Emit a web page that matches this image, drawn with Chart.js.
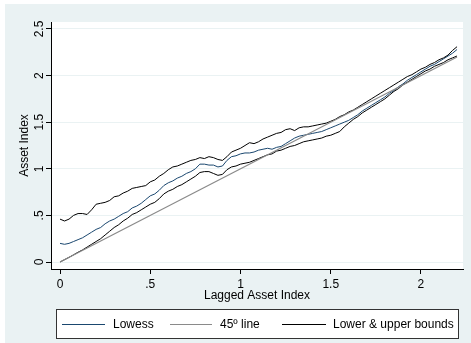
<!DOCTYPE html>
<html>
<head>
<meta charset="utf-8">
<script src="https://cdn.jsdelivr.net/npm/chart.js@4.4.1/dist/chart.umd.min.js"></script>
<style>
  html, body { margin: 0; padding: 0; background: #ffffff; }
  #wrap { width: 471px; height: 343px; position: relative; }
</style>
</head>
<body>
<div id="wrap"><canvas id="chart" width="471" height="343"></canvas></div>
<script>
/* Lowess of asset index on lagged asset index, with bounds */

const lagged = [
  0, 0.025, 0.05, 0.075, 0.1, 0.125, 0.15, 0.175, 0.2, 0.225,
  0.25, 0.275, 0.3, 0.325, 0.35, 0.375, 0.4, 0.425, 0.45, 0.475,
  0.5, 0.525, 0.55, 0.575, 0.6, 0.625, 0.65, 0.675, 0.7, 0.725,
  0.75, 0.775, 0.8, 0.825, 0.85, 0.875, 0.9, 0.925, 0.95, 0.975,
  1, 1.025, 1.05, 1.075, 1.1, 1.125, 1.15, 1.175, 1.2, 1.225,
  1.25, 1.275, 1.3, 1.325, 1.35, 1.375, 1.4, 1.425, 1.45, 1.475,
  1.5, 1.525, 1.55, 1.575, 1.6, 1.625, 1.65, 1.675, 1.7, 1.725,
  1.75, 1.775, 1.8, 1.825, 1.85, 1.875, 1.9, 1.925, 1.95, 1.975,
  2, 2.025, 2.05, 2.075, 2.1, 2.125, 2.15, 2.175, 2.2
];

const lowess = [
  0.20, 0.19, 0.20, 0.22, 0.24, 0.26, 0.29, 0.32, 0.35, 0.37,
  0.41, 0.44, 0.46, 0.49, 0.52, 0.54, 0.58, 0.60, 0.63, 0.67,
  0.71, 0.73, 0.77, 0.82, 0.85, 0.87, 0.90, 0.92, 0.95, 0.97,
  1.00, 1.05, 1.05, 1.04, 1.04, 1.02, 1.03, 1.09, 1.13, 1.14,
  1.16, 1.17, 1.17, 1.18, 1.20, 1.21, 1.22, 1.21, 1.23, 1.24,
  1.27, 1.30, 1.33, 1.35, 1.36, 1.37, 1.38, 1.39, 1.40, 1.42,
  1.44, 1.46, 1.48, 1.50, 1.52, 1.55, 1.58, 1.62, 1.65, 1.68,
  1.71, 1.74, 1.77, 1.81, 1.84, 1.88, 1.91, 1.95, 1.98, 2.01,
  2.04, 2.07, 2.10, 2.12, 2.15, 2.18, 2.21, 2.24, 2.28
];

const upper = [
  0.46, 0.44, 0.46, 0.50, 0.52, 0.52, 0.51, 0.56, 0.62, 0.63,
  0.64, 0.66, 0.70, 0.71, 0.74, 0.76, 0.79, 0.80, 0.81, 0.82,
  0.86, 0.88, 0.92, 0.95, 0.99, 1.02, 1.03, 1.05, 1.07, 1.09,
  1.10, 1.12, 1.11, 1.13, 1.12, 1.10, 1.09, 1.13, 1.18, 1.20,
  1.22, 1.25, 1.28, 1.27, 1.29, 1.32, 1.34, 1.36, 1.38, 1.39,
  1.42, 1.43, 1.41, 1.44, 1.45, 1.45, 1.46, 1.47, 1.48, 1.49,
  1.51, 1.53, 1.56, 1.58, 1.61, 1.63, 1.66, 1.69, 1.72, 1.75,
  1.78, 1.81, 1.84, 1.87, 1.90, 1.93, 1.96, 1.99, 2.01, 2.04,
  2.07, 2.09, 2.12, 2.14, 2.17, 2.19, 2.22, 2.27, 2.31
];

const lower = [
  0.00, 0.025, 0.05, 0.077, 0.105, 0.13, 0.16, 0.19, 0.22, 0.25,
  0.29, 0.33, 0.37, 0.40, 0.44, 0.47, 0.51, 0.53, 0.56, 0.59,
  0.62, 0.64, 0.68, 0.73, 0.76, 0.78, 0.81, 0.83, 0.86, 0.89,
  0.92, 0.96, 0.97, 0.97, 0.95, 0.93, 0.94, 0.99, 1.02, 1.03,
  1.05, 1.06, 1.07, 1.09, 1.11, 1.13, 1.15, 1.16, 1.19, 1.20,
  1.22, 1.24, 1.25, 1.27, 1.29, 1.30, 1.31, 1.32, 1.33, 1.35,
  1.36, 1.38, 1.40, 1.45, 1.49, 1.53, 1.56, 1.60, 1.63, 1.66,
  1.69, 1.72, 1.75, 1.79, 1.83, 1.86, 1.90, 1.93, 1.96, 1.99,
  2.02, 2.05, 2.07, 2.10, 2.12, 2.14, 2.17, 2.19, 2.21
];

const diagX = [0, 2.2];
const diagY = [0, 2.2];

const xTicks = [0, 0.5, 1, 1.5, 2];
const xTickLabels = ['0', '.5', '1', '1.5', '2'];
const yTicks = [0, 0.5, 1, 1.5, 2, 2.5];
const yTickLabels = ['0', '.5', '1', '1.5', '2', '2.5'];

const seriesNames = ['Lowess', '45\u00ba line', 'Lower & upper bounds'];
const xTitle = 'Lagged Asset Index';
const yTitle = 'Asset Index';

const FONT = "'Liberation Sans', Arial, sans-serif";
const BG = '#eaf2f3';
const BLUE = '#1a476f';
const GRAY = '#8a8a8a';
const BLACK = '#000000';

const pts = (xs, ys) => xs.map((x, i) => ({ x: x, y: ys[i] }));

/* background, axis texts and the boxed legend, Stata style */
const stataPlugin = {
  id: 'stata',
  beforeDraw(chart) {
    const ctx = chart.ctx;
    const a = chart.chartArea;
    ctx.save();
    ctx.fillStyle = '#ffffff';
    ctx.fillRect(0, 0, chart.width, chart.height);
    ctx.fillStyle = BG;
    ctx.fillRect(5, 4, chart.width - 5, chart.height - 4);
    ctx.fillStyle = '#ffffff';
    ctx.fillRect(a.left, a.top, a.right - a.left, a.bottom - a.top);
    ctx.restore();
  },
  afterDraw(chart) {
    const ctx = chart.ctx;
    const a = chart.chartArea;
    const ys = chart.scales.y;
    ctx.save();
    ctx.fillStyle = '#000';
    ctx.font = '12px ' + FONT;
    ctx.textAlign = 'center';
    ctx.textBaseline = 'middle';

    // vertical y tick labels
    yTicks.forEach((v, i) => {
      ctx.save();
      ctx.translate(40, ys.getPixelForValue(v));
      ctx.rotate(-Math.PI / 2);
      ctx.fillText(yTickLabels[i], 0, 0);
      ctx.restore();
    });

    // y title
    ctx.save();
    ctx.translate(25, (a.top + a.bottom) / 2);
    ctx.rotate(-Math.PI / 2);
    ctx.fillText(yTitle, 0, 0);
    ctx.restore();

    // x title
    ctx.fillText(xTitle, (a.left + a.right) / 2, 296);

    // legend box
    const bx = 56, by = 309, bw = 403, bh = 30;
    ctx.fillStyle = '#ffffff';
    ctx.fillRect(bx, by, bw, bh);
    ctx.strokeStyle = '#333';
    ctx.lineWidth = 1;
    ctx.strokeRect(bx + 0.5, by + 0.5, bw - 1, bh - 1);

    const items = [
      { x0: 62, x1: 105, tx: 113, color: BLUE },
      { x0: 170, x1: 212, tx: 220, color: GRAY },
      { x0: 282, x1: 326, tx: 333, color: BLACK }
    ];
    const ly = by + bh / 2;
    ctx.textAlign = 'left';
    items.forEach((it, i) => {
      ctx.strokeStyle = it.color;
      ctx.beginPath();
      ctx.moveTo(it.x0, Math.round(ly) + 0.5);
      ctx.lineTo(it.x1, Math.round(ly) + 0.5);
      ctx.stroke();
      ctx.fillStyle = '#000';
      ctx.fillText(seriesNames[i], it.tx, ly + 1);
    });
    ctx.restore();
  }
};

new Chart(document.getElementById('chart').getContext('2d'), {
  type: 'line',
  data: {
    datasets: [
      {
        label: seriesNames[1],
        data: pts(diagX, diagY),
        borderColor: GRAY,
        borderWidth: 1.2
      },
      {
        label: 'Upper bound',
        data: pts(lagged, upper),
        borderColor: BLACK,
        borderWidth: 1
      },
      {
        label: 'Lower bound',
        data: pts(lagged, lower),
        borderColor: BLACK,
        borderWidth: 1
      },
      {
        label: seriesNames[0],
        data: pts(lagged, lowess),
        borderColor: BLUE,
        borderWidth: 1
      }
    ]
  },
  options: {
    responsive: false,
    animation: false,
    events: [],
    elements: {
      point: { radius: 0 },
      line: { tension: 0 }
    },
    layout: { padding: { left: 0, top: 22, right: 8, bottom: 0 } },
    plugins: {
      legend: { display: false },
      tooltip: { enabled: false }
    },
    scales: {
      x: {
        type: 'linear',
        min: -0.05,
        max: 2.233,
        afterBuildTicks: s => { s.ticks = xTicks.map(v => ({ value: v })); },
        afterFit: s => { s.height = 74; },
        grid: {
          drawOnChartArea: false,
          drawTicks: true,
          tickLength: 5,
          tickColor: '#000'
        },
        border: { display: true, color: '#000', width: 1 },
        ticks: {
          autoSkip: false,
          maxRotation: 0,
          padding: 3,
          color: '#000',
          font: { family: FONT, size: 12 },
          callback: (v) => xTickLabels[xTicks.indexOf(v)]
        }
      },
      y: {
        type: 'linear',
        min: -0.075,
        max: 2.575,
        afterBuildTicks: s => { s.ticks = yTicks.map(v => ({ value: v })); },
        afterFit: s => { s.width = 51; },
        grid: {
          color: BG,
          lineWidth: 1,
          drawTicks: true,
          tickLength: 5,
          tickColor: '#000'
        },
        border: { display: true, color: '#000', width: 1 },
        ticks: { display: false }
      }
    }
  },
  plugins: [stataPlugin]
});
</script>
</body>
</html>
